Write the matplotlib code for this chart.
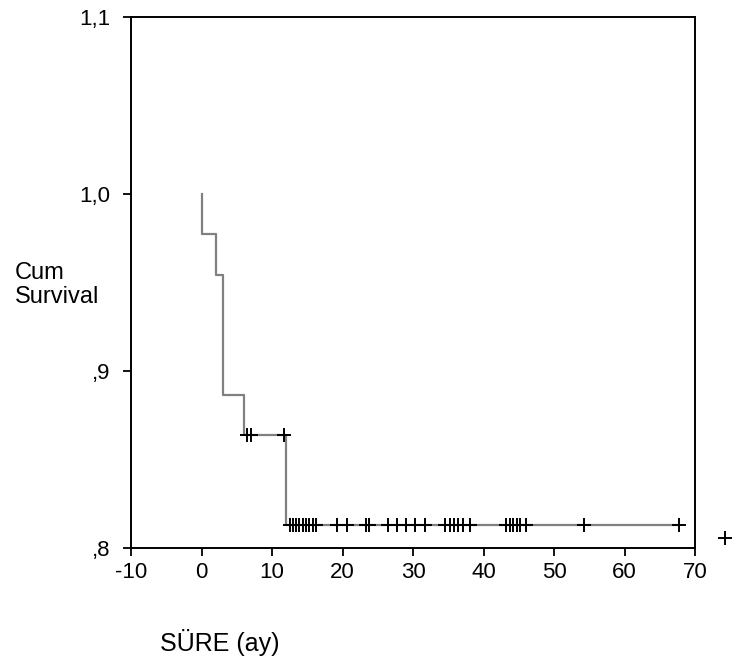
import matplotlib
matplotlib.use("Agg")
import matplotlib.pyplot as plt

plt.rcParams['font.family'] = ['Liberation Sans', 'DejaVu Sans']

# Kaplan-Meier step data
event_times = [0.0, 2.1, 3.0, 6.0, 12.0]
surv_after = [0.9773, 0.9545, 0.8864, 0.8636, 0.8128]
start_surv = 1.0

# Censored observations
cens_times_a = [6.5, 7.0, 11.7]
cens_surv_a = 0.8636
cens_times_b = [12.6, 13.0, 13.4, 13.9, 14.4, 14.8, 15.3, 15.8, 16.2,
                19.2, 20.6, 23.3, 23.8, 26.5, 27.8, 29.0, 30.3, 31.7,
                34.6, 35.2, 35.8, 36.4, 37.1, 38.1,
                43.2, 43.7, 44.2, 44.7, 45.2, 46.0, 54.2, 67.7]
cens_surv_b = 0.8128

x_ticks = [-10, 0, 10, 20, 30, 40, 50, 60, 70]
y_ticks = [0.8, 0.9, 1.0, 1.1]
y_tick_labels = [",8", ",9", "1,0", "1,1"]

fig = plt.figure(figsize=(7.35, 6.67), dpi=100)
ax = fig.add_axes([131/735, 1-548/667, (695-131)/735, (548-17)/667])

xs = [event_times[0]] + event_times + [max(cens_times_b)]
ys = [start_surv] + surv_after + [surv_after[-1]]
ax.step(xs, ys, where='post', color='#808080', lw=1.6)

ax.plot(cens_times_a, [cens_surv_a]*len(cens_times_a), linestyle='none',
        marker='+', color='black', markersize=9.5, markeredgewidth=1.4)
ax.plot(cens_times_b, [cens_surv_b]*len(cens_times_b), linestyle='none',
        marker='+', color='black', markersize=9.5, markeredgewidth=1.4)

ax.set_xlim(-10, 70)
ax.set_ylim(0.8, 1.1)
ax.set_xticks(x_ticks)
ax.set_xticklabels([str(t) for t in x_ticks])
ax.set_yticks(y_ticks)
ax.set_yticklabels(y_tick_labels)
ax.tick_params(direction='out', length=6, width=1.3, labelsize=16)
ax.tick_params(axis='x', pad=4)
ax.tick_params(axis='y', pad=9)
for s in ax.spines.values():
    s.set_linewidth(1.4)

fig.text(15/735, 1-285/667, "Cum\nSurvival", ha='left', va='center', fontsize=17,
         linespacing=1.15)
fig.text(160/735, 1-642/667, "SÜRE (ay)", ha='left', va='center', fontsize=18)

# legend-like censored marker outside the plot
fig.lines.append(matplotlib.lines.Line2D([725/735], [1-538/667], transform=fig.transFigure,
                                         marker='+', color='black', markersize=9.5,
                                         markeredgewidth=1.4, linestyle='none'))

fig.savefig("out.png", dpi=100)
